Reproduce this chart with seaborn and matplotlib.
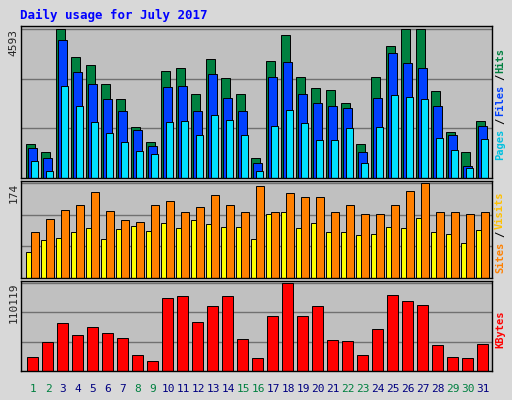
import numpy as np
import matplotlib
matplotlib.use("Agg")
import matplotlib.pyplot as plt
import seaborn as sns

days = np.arange(1, 32)
weekend = [1, 2, 8, 9, 15, 16, 22, 23, 29, 30]

hits = [1055, 811, 4593, 3720, 3470, 2910, 2420, 1580, 1120, 3290, 3380, 2600, 3680, 3070, 2600, 620,
        3600, 4400, 3100, 2760, 2700, 2300, 1055, 3100, 4060, 4593, 4593, 2670, 1430, 811, 1770]
files = [930, 620, 4250, 3260, 2910, 2420, 2050, 1490, 990, 2790, 2850, 2080, 3200, 2480, 2080, 465,
         3100, 3570, 2580, 2300, 2230, 2170, 810, 2480, 3850, 3530, 3380, 2230, 1330, 370, 1610]
pages = [530, 220, 2850, 2230, 1740, 1400, 1120, 840, 740, 1740, 1770, 1330, 1950, 1800, 1330, 220,
         1610, 2110, 1680, 1180, 1180, 1550, 465, 1580, 2570, 2510, 2450, 1240, 870, 310, 1210]
visits = [84, 108, 125, 133, 157, 123, 106, 103, 133, 140, 121, 129, 151, 134, 121, 168,
          120, 155, 148, 148, 120, 134, 118, 118, 133, 159, 174, 121, 120, 118, 120]
sites = [48, 69, 73, 84, 92, 71, 90, 95, 86, 101, 92, 106, 99, 94, 94, 71,
         118, 120, 92, 101, 84, 84, 79, 80, 94, 92, 110, 84, 80, 64, 88]
kbytes = [17900, 35800, 60000, 44800, 55000, 47300, 40900, 20500, 12800, 91600, 94100, 61400, 80600, 94100, 39600, 16600,
          69100, 110119, 69100, 80600, 38400, 37100, 20500, 52700, 95400, 87700, 82600, 32000, 17900, 16600, 33300]

sns.set_theme(style="white")
plt.rcParams["font.family"] = ["DejaVu Sans Mono", "DejaVu Sans"]

W, H = 512, 400
fig = plt.figure(figsize=(W / 100, H / 100), dpi=100, facecolor="#D8D8D8")

def add_panel(y0, y1):
    ax = fig.add_axes([21 / W, 1 - y1 / H, 471 / W, (y1 - y0) / H], facecolor="#C0C0C0")
    for s in ax.spines.values():
        s.set_color("black")
        s.set_linewidth(1)
    return ax

def bars(ax, vals, off, width, color):
    sns.barplot(x=days + off, y=vals, native_scale=True, width=width, color=color,
                edgecolor="black", linewidth=0.7, errorbar=None, ax=ax, saturation=1)

def finish(ax, top, label, labels_right):
    ax.set_xlim(0.2, 31.6)
    ax.set_ylim(0, top * 1.02)
    for f in (1 / 3, 2 / 3):
        ax.axhline(top * f, color="#707070", lw=1, zorder=0)
    ax.axhline(top, color="#707070", lw=1, zorder=0)
    ax.set_yticks([top])
    ax.set_yticklabels([label], rotation=90, va="top", fontsize=8)
    ax.tick_params(axis="y", length=0, pad=2)
    ax.set_xticks([])
    ax.set_xlabel("")
    ax.set_ylabel("")
    x = 500 / W
    pos = ax.get_position()
    yc = pos.y0 + pos.height / 2
    total = sum(len(t) for t, c in labels_right)
    ch = 7.2 / H
    y = yc - total * ch / 2
    for t, c in labels_right:
        fig.text(x, y, t, rotation=90, color=c, fontsize=7.5, ha="center", va="bottom",
                 fontweight="bold")
        y += len(t) * ch

ax1 = add_panel(26, 178)
bars(ax1, hits, -0.2, 0.6, "#008040")
bars(ax1, files, -0.05, 0.6, "#0040FF")
bars(ax1, pages, 0.1, 0.5, "#00E0FF")
finish(ax1, 4593, "4593", [("Pages", "#00C0E0"), ("/", "black"), ("Files", "#0040FF"),
                           ("/", "black"), ("Hits", "#008040")])

ax2 = add_panel(181, 278)
bars(ax2, sites, -0.25, 0.45, "#FFFF00")
bars(ax2, visits, 0.12, 0.55, "#FF8000")
finish(ax2, 174, "174", [("Sites", "#FF8000"), ("/", "black"), ("Visits", "#FFC000")])

ax3 = add_panel(281, 371)
bars(ax3, kbytes, -0.02, 0.7, "#FF0000")
finish(ax3, 110119, "110119", [("KBytes", "#FF0000")])

for d in days:
    xf = (21 + (d - 0.2) / 31.4 * 471) / W
    fig.text(xf, 1 - 389 / H, str(d), ha="center", va="center", fontsize=8,
             color="#008040" if d in weekend else "#000080")

fig.text(20 / W, 1 - 15 / H, "Daily usage for July 2017", color="#0000FF",
         fontsize=9, fontweight="bold", va="center")

fig.savefig("out.png", dpi=100, facecolor=fig.get_facecolor())
